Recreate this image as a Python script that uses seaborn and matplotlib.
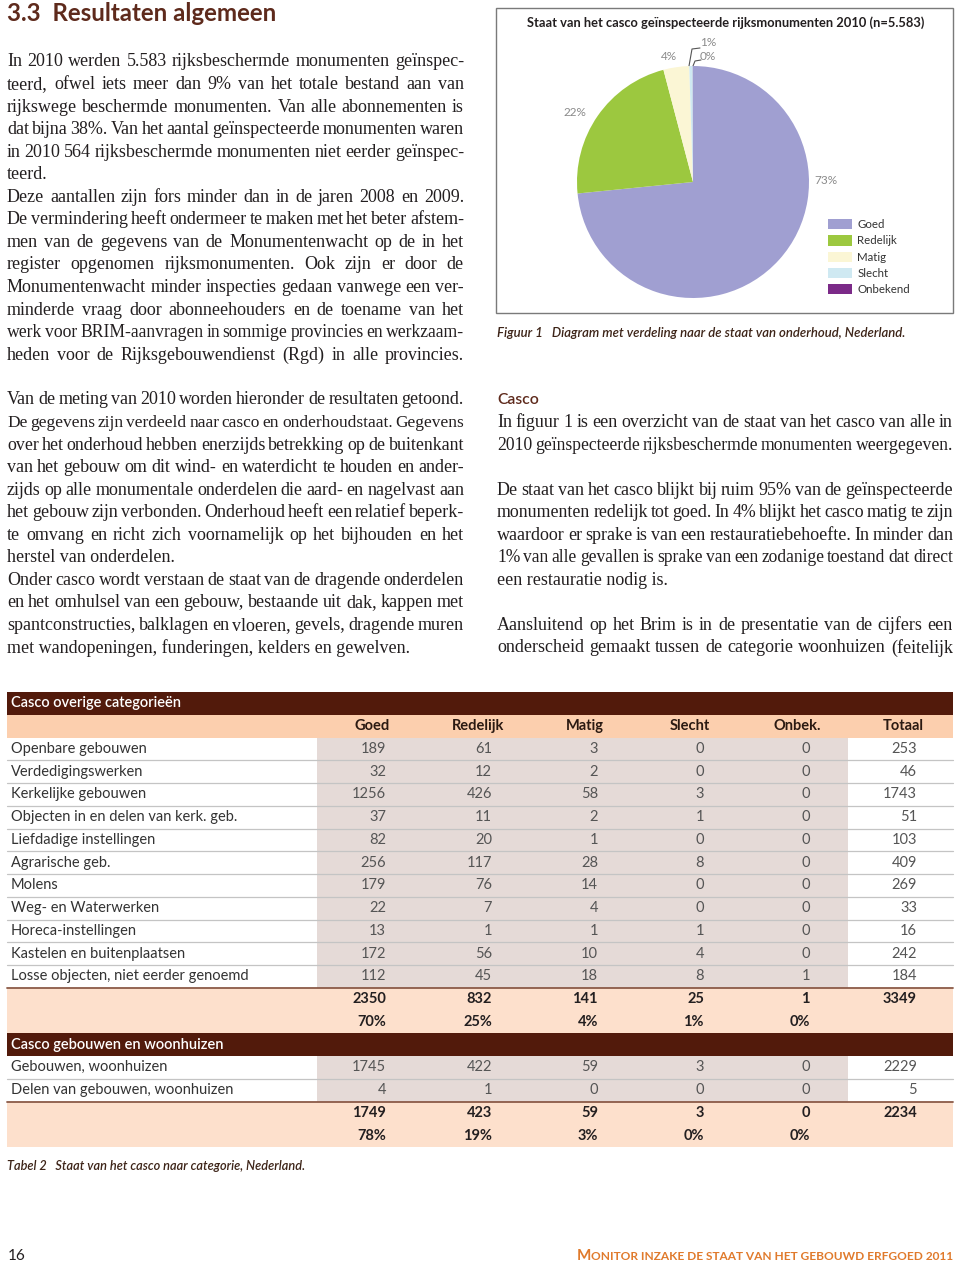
import matplotlib
matplotlib.use("Agg")
import matplotlib.pyplot as plt
import seaborn as sns
from matplotlib.font_manager import FontProperties
from matplotlib.patches import Rectangle

sns.set_theme(style="white")
plt.rcParams['font.family'] = ['Lato', 'DejaVu Sans']

W, H = 960, 1263

# ---- pie chart data (figuur 1) ----
pie_labels = ["Goed", "Redelijk", "Matig", "Slecht", "Onbekend"]
pie_counts = [4099, 1255, 200, 28, 1]
pie_pct = ["73%", "22%", "4%", "1%", "0%"]
pie_colors = ["#a09fd1", "#9cc83f", "#fbf6d5", "#cfe9f2", "#7b2a88"]

# ---- table data (tabel 2) ----
columns = ["Goed", "Redelijk", "Matig", "Slecht", "Onbek.", "Totaal"]
overig_cats = ["Openbare gebouwen", "Verdedigingswerken", "Kerkelijke gebouwen",
               "Objecten in en delen van kerk. geb.", "Liefdadige instellingen",
               "Agrarische geb.", "Molens", "Weg- en Waterwerken",
               "Horeca-instellingen", "Kastelen en buitenplaatsen",
               "Losse objecten, niet eerder genoemd"]
overig_goed = [189, 32, 1256, 37, 82, 256, 179, 22, 13, 172, 112]
overig_redelijk = [61, 12, 426, 11, 20, 117, 76, 7, 1, 56, 45]
overig_matig = [3, 2, 58, 2, 1, 28, 14, 4, 1, 10, 18]
overig_slecht = [0, 0, 3, 1, 0, 8, 0, 0, 1, 4, 8]
overig_onbek = [0, 0, 0, 0, 0, 0, 0, 0, 0, 0, 1]
overig_totaal = [253, 46, 1743, 51, 103, 409, 269, 33, 16, 242, 184]
overig_sum = [2350, 832, 141, 25, 1, 3349]
overig_pct = ["70%", "25%", "4%", "1%", "0%", ""]

woon_cats = ["Gebouwen, woonhuizen", "Delen van gebouwen, woonhuizen"]
woon_goed = [1745, 4]
woon_redelijk = [422, 1]
woon_matig = [59, 0]
woon_slecht = [3, 0]
woon_onbek = [0, 0]
woon_totaal = [2229, 5]
woon_sum = [1749, 423, 59, 3, 0, 2234]
woon_pct = ["78%", "19%", "3%", "0%", "0%", ""]

# ---- body text ----
left_par1 = [
    ("In 2010 werden 5.583 rijksbeschermde monumenten geïnspec-", True),
    ("teerd, ofwel iets meer dan 9% van het totale bestand aan van", True),
    ("rijkswege beschermde monumenten. Van alle abonnementen is", True),
    ("dat bijna 38%. Van het aantal geïnspecteerde monumenten waren", True),
    ("in 2010 564 rijksbeschermde monumenten niet eerder geïnspec-", True),
    ("teerd.", False),
    ("Deze aantallen zijn fors minder dan in de jaren 2008 en 2009.", True),
    ("De vermindering heeft ondermeer te maken met het beter afstem-", True),
    ("men van de gegevens van de Monumentenwacht op de in het", True),
    ("register opgenomen rijksmonumenten. Ook zijn er door de", True),
    ("Monumentenwacht minder inspecties gedaan vanwege een ver-", True),
    ("minderde vraag door abonneehouders en de toename van het", True),
    ("werk voor BRIM-aanvragen in sommige provincies en werkzaam-", True),
    ("heden voor de Rijksgebouwendienst (Rgd) in alle provincies.", True),
]
left_par2 = [
    ("Van de meting van 2010 worden hieronder de resultaten getoond.", True),
    ("De gegevens zijn verdeeld naar casco en onderhoudstaat. Gegevens", True),
    ("over het onderhoud hebben enerzijds betrekking op de buitenkant", True),
    ("van het gebouw om dit wind- en waterdicht te houden en ander-", True),
    ("zijds op alle monumentale onderdelen die aard- en nagelvast aan", True),
    ("het gebouw zijn verbonden. Onderhoud heeft een relatief beperk-", True),
    ("te omvang en richt zich voornamelijk op het bijhouden en het", True),
    ("herstel van onderdelen.", False),
    ("Onder casco wordt verstaan de staat van de dragende onderdelen", True),
    ("en het omhulsel van een gebouw, bestaande uit dak, kappen met", True),
    ("spantconstructies, balklagen en vloeren, gevels, dragende muren", True),
    ("met wandopeningen, funderingen, kelders en gewelven.", False),
]
right_lines = [
    ("In figuur 1 is een overzicht van de staat van het casco van alle in", True),
    ("2010 geïnspecteerde rijksbeschermde monumenten weergegeven.", True),
    ("", False),
    ("De staat van het casco blijkt bij ruim 95% van de geïnspecteerde", True),
    ("monumenten redelijk tot goed. In 4% blijkt het casco matig te zijn", True),
    ("waardoor er sprake is van een restauratiebehoefte. In minder dan", True),
    ("1% van alle gevallen is sprake van een zodanige toestand dat direct", True),
    ("een restauratie nodig is.", False),
    ("", False),
    ("Aansluitend op het Brim is in de presentatie van de cijfers een", True),
    ("onderscheid gemaakt tussen de categorie woonhuizen (feitelijk", True),
]

BROWN = "#5e2a1c"
DARK = "#231f20"

fig = plt.figure(figsize=(W / 100, H / 100), dpi=100)
fig.patch.set_facecolor("white")
page = fig.add_axes([0, 0, 1, 1])
page.set_xlim(0, W)
page.set_ylim(H, 0)
page.axis("off")
renderer = fig.canvas.get_renderer()


def text_width(s, prop):
    w, h, d = renderer.get_text_width_height_descent(s, prop, ismath=False)
    return w


BODY_SIZE = 13.0
MIN_GAP = 3.0


def justify(x0, x1, y, s, color=DARK, full=True):
    words = s.split()
    if not words:
        return
    size = BODY_SIZE
    prop = FontProperties(family="Liberation Serif", size=size)
    if not full or len(words) == 1:
        page.text(x0, y, s, fontproperties=prop, color=color, ha="left", va="baseline")
        return
    widths = [text_width(w, prop) for w in words]
    need = sum(widths) + MIN_GAP * (len(words) - 1)
    if need > x1 - x0:
        # squeeze an over-long line a little
        size *= (x1 - x0 - MIN_GAP * (len(words) - 1)) / sum(widths)
        prop = FontProperties(family="Liberation Serif", size=size)
        widths = [text_width(w, prop) for w in words]
    gap = (x1 - x0 - sum(widths)) / (len(words) - 1)
    x = x0
    for w, wd in zip(words, widths):
        page.text(x, y, w, fontproperties=prop, color=color, ha="left", va="baseline")
        x += wd + gap


def fit_text(x0, x1, y, s, color, **kw):
    prop = FontProperties(size=10, **kw)
    size = 10 * (x1 - x0) / text_width(s, prop)
    prop = FontProperties(size=size, **kw)
    page.text(x0, y, s, fontproperties=prop, color=color, ha="left", va="baseline")


LINE = 22.55

# headings
fit_text(7, 278, 21, "3.3  Resultaten algemeen", BROWN, family="Lato", weight="bold")
fit_text(497, 539, 404, "Casco", BROWN, family="Lato", weight="semibold")

for i, (s, full) in enumerate(left_par1):
    justify(7, 464, 66.5 + LINE * i, s, full=full)
for i, (s, full) in enumerate(left_par2):
    justify(7, 464, 404.5 + LINE * i, s, full=full)
for i, (s, full) in enumerate(right_lines):
    justify(497, 953, 427 + LINE * i, s, full=full)

# ---- figure 1: pie chart ----
page.add_patch(Rectangle((496, 8), 457, 305, fill=False, edgecolor="#7a7a7a", lw=1))
fit_text(527, 925, 27, "Staat van het casco geïnspecteerde rijksmonumenten 2010 (n=5.583)",
         DARK, family="Lato", weight="bold")

cx, cy, r = 693, 182, 116
ax_pie = fig.add_axes([(cx - r) / W, 1 - (cy + r) / H, 2 * r / W, 2 * r / H])
wedges, _ = ax_pie.pie(pie_counts, colors=pie_colors, startangle=90, counterclock=False,
                       wedgeprops=dict(linewidth=0))
ax_pie.set_xlim(-1, 1)
ax_pie.set_ylim(-1, 1)
ax_pie.axis("off")

label_pos = [(826, 180), (575, 113), (669, 56), (708, 43), (708, 56)]
for (lx, ly), t in zip(label_pos, pie_pct):
    page.text(lx, ly, t, fontsize=8.5, color="#8a8a8a", ha="center", va="center")
page.plot([689, 692, 700], [66, 49, 48], color="#555555", lw=0.8)
page.plot([693, 695, 701], [66, 61, 60], color="#555555", lw=0.8)

ax_pie.legend(wedges, pie_labels, loc="upper left", bbox_to_anchor=(828 / W, 1 - 219 / H),
              bbox_transform=fig.transFigure, frameon=False, fontsize=8.3,
              handlelength=2.1, handleheight=1.0, handletextpad=0.45,
              labelspacing=0.45, borderpad=0, borderaxespad=0, labelcolor="#333333")

fit_text(497, 903, 337, "Figuur 1   Diagram met verdeling naar de staat van onderhoud, Nederland.",
         "#3d2418", family="Lato", style="italic", weight="semibold")

# ---- table 2 ----
rows = [("band", "Casco overige categorieën", None), ("head", "", columns)]
for k, cat in enumerate(overig_cats):
    rows.append(("data", cat, [overig_goed[k], overig_redelijk[k], overig_matig[k],
                               overig_slecht[k], overig_onbek[k], overig_totaal[k]]))
rows.append(("total", "", overig_sum))
rows.append(("pct", "", overig_pct))
rows.append(("band", "Casco gebouwen en woonhuizen", None))
for k, cat in enumerate(woon_cats):
    rows.append(("data", cat, [woon_goed[k], woon_redelijk[k], woon_matig[k],
                               woon_slecht[k], woon_onbek[k], woon_totaal[k]]))
rows.append(("total", "", woon_sum))
rows.append(("pct", "", woon_pct))

top, bottom = 692, 1147
tab = fig.add_axes([0, 1 - bottom / H, 1, (bottom - top) / H])
tab.set_xlim(0, W)
tab.set_ylim(len(rows), 0)
tab.axis("off")

x_left, x_right = 7, 953
shade_x0, shade_x1 = 317, 848
num_right = [386, 492, 598, 704, 810, 917]
head_center = [372, 478, 585, 690, 797, 903]
band_col, head_col, tot_col, shade_col = "#521a0b", "#fccfae", "#fde0cc", "#e5dad7"
TS = 10.5

for i, (kind, label, vals) in enumerate(rows):
    yc = i + 0.5
    if kind == "band":
        tab.add_patch(Rectangle((x_left, i), x_right - x_left, 1, color=band_col, lw=0))
        tab.text(11, yc, label, color="white", fontsize=TS, weight="semibold", va="center")
    elif kind == "head":
        tab.add_patch(Rectangle((x_left, i), x_right - x_left, 1, color=head_col, lw=0))
        for xc, c in zip(head_center, vals):
            tab.text(xc, yc, c, color="#2b1a12", fontsize=TS, weight="bold",
                     ha="center", va="center")
    elif kind == "data":
        tab.add_patch(Rectangle((shade_x0, i), shade_x1 - shade_x0, 1, color=shade_col, lw=0))
        tab.text(11, yc, label, color="#333333", fontsize=TS, va="center")
        for xr, v in zip(num_right, vals):
            tab.text(xr, yc, str(v), color="#555555", fontsize=TS,
                     ha="right", va="center")
        if rows[i + 1][0] == "data":
            tab.plot([x_left, x_right], [i + 1, i + 1], color="#c4c4c4", lw=0.9)
    else:
        tab.add_patch(Rectangle((x_left, i), x_right - x_left, 1, color=tot_col, lw=0))
        if kind == "total":
            tab.plot([x_left, x_right], [i, i], color="#8b5a48", lw=1.3)
        for xr, v in zip(num_right, vals):
            tab.text(xr, yc, str(v), color=DARK, fontsize=TS, weight="bold",
                     ha="right", va="center")

fit_text(7, 305, 1170, "Tabel 2   Staat van het casco naar categorie, Nederland.",
         "#3d2418", family="Lato", style="italic", weight="semibold")

# ---- footer ----
page.text(8, 1260, "16", fontsize=11, color=DARK, va="baseline")
small = FontProperties(family="Lato", weight="bold", size=8.6)
big = FontProperties(family="Lato", weight="bold", size=11)
rest = "ONITOR INZAKE DE STAAT VAN HET GEBOUWD ERFGOED 2011"
rest_w = text_width(rest, small)
page.text(953, 1260, rest, fontproperties=small, color="#e07a2c", ha="right", va="baseline")
page.text(953 - rest_w, 1260, "M", fontproperties=big, color="#e07a2c", ha="right", va="baseline")

fig.savefig("out.png", dpi=100, facecolor="white")
